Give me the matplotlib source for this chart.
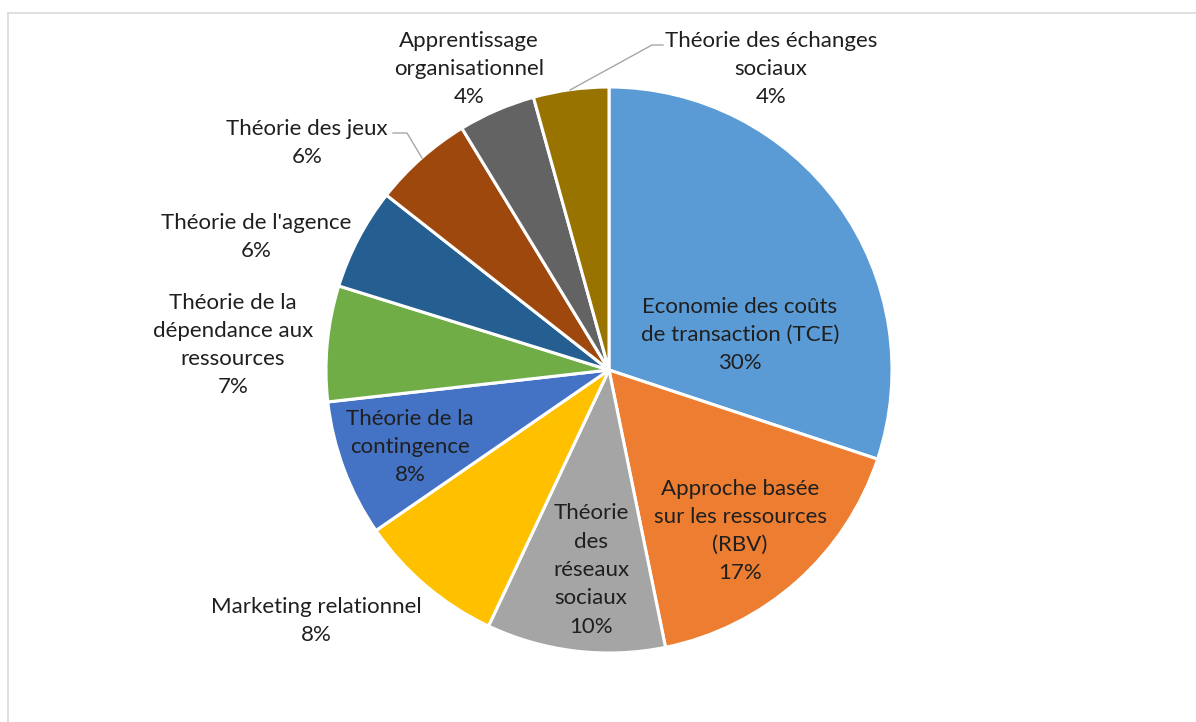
import matplotlib
matplotlib.use("Agg")
import matplotlib.pyplot as plt
from matplotlib.lines import Line2D

# ---- data ----
labels = [
    "Economie des coûts\nde transaction (TCE)",
    "Approche basée\nsur les ressources\n(RBV)",
    "Théorie\ndes\nréseaux\nsociaux",
    "Marketing relationnel",
    "Théorie de la\ncontingence",
    "Théorie de la\ndépendance aux\nressources",
    "Théorie de l'agence",
    "Théorie des jeux",
    "Apprentissage\norganisationnel",
    "Théorie des échanges\nsociaux",
]
shares = [30.1, 16.7, 10.2, 8.4, 7.8, 6.6, 5.8, 5.7, 4.4, 4.3]
colors = ["#5B9BD5", "#ED7D31", "#A5A5A5", "#FFC000", "#4472C4",
          "#70AD47", "#255E91", "#9E480E", "#636363", "#997300"]

# ---- layout (pixel coords, y from top) ----
W, H = 1196, 722
cx, cy, rad = 609, 370, 283
label_pos = [(740, 335), (740, 531), (591, 570), (316, 621), (410, 447),
             (233, 345), (256, 237), (307, 143), (469, 69), (771, 69)]
# leader lines for jeux and échanges
leaders = {7: [(393, 133), (407, 133), (422, 158)],
           9: [(663, 45), (652, 45), (570, 90)]}

plt.rcParams['font.family'] = ['Lato', 'DejaVu Sans']

fig = plt.figure(figsize=(W / 100, H / 100), dpi=100)
ax = fig.add_axes([0, 0, 1, 1])

ax.pie(shares, colors=colors, startangle=90, counterclock=False,
       center=(cx, H - cy), radius=rad, frame=True,
       wedgeprops=dict(edgecolor="white", linewidth=2.2))
ax.set_xlim(0, W)
ax.set_ylim(0, H)
ax.set_aspect("auto")
ax.axis("off")

total = sum(shares)
for i, (lab, v) in enumerate(zip(labels, shares)):
    pct = round(v / total * 100)
    x, y = label_pos[i]
    ax.text(x, H - y, f"{lab}\n{pct}%", ha="center", va="center",
            fontsize=16, color="#1f1f1f", linespacing=1.52)

for pts in leaders.values():
    xs = [p[0] for p in pts]
    ys = [H - p[1] for p in pts]
    ax.plot(xs, ys, color="#A6A6A6", lw=1.0)

# chart frame (top and left edges visible)
fig.add_artist(Line2D([8 / W, 1], [1 - 13 / H, 1 - 13 / H], color="#D9D9D9", lw=1.2))
fig.add_artist(Line2D([8 / W, 8 / W], [0, 1 - 13 / H], color="#D9D9D9", lw=1.2))

fig.savefig("out.png", dpi=100)
